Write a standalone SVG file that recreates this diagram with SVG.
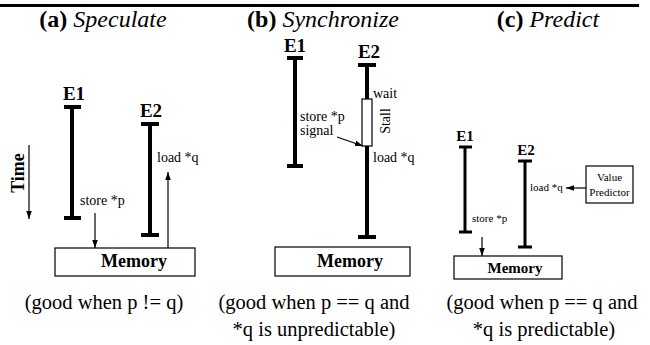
<svg xmlns="http://www.w3.org/2000/svg" width="650" height="345" viewBox="0 0 650 345" font-family="'Liberation Serif', 'DejaVu Serif', serif">
<style>
text, tspan{font-family:"Liberation Serif","DejaVu Serif",serif;fill:#000}
.title{font-size:24px;text-anchor:middle}
.b{font-weight:bold}
.i{font-style:italic}
.lab{font-size:19px;font-weight:bold;text-anchor:middle}
.labs{font-size:15px;font-weight:bold;text-anchor:middle}
.t{font-size:14px}
.ts{font-size:11px}
.mem{font-size:18px;font-weight:bold;text-anchor:middle}
.mems{font-size:15px;font-weight:bold;text-anchor:middle}
.cap{font-size:20.5px;text-anchor:middle}
.bar{stroke:#000;stroke-width:4;fill:none}
.bars{stroke:#000;stroke-width:3;fill:none}
.box{fill:#fff;stroke:#000;stroke-width:1.2}
.arr{stroke:#000;stroke-width:1.2;fill:none;marker-end:url(#ah)}
</style>
<defs>
<marker id="ah" viewBox="0 0 10 10" refX="10" refY="5" markerWidth="8" markerHeight="8" markerUnits="userSpaceOnUse" orient="auto">
<path d="M0,1.5 L10,5 L0,8.5 Z" fill="#000"/>
</marker>
</defs>
<line x1="0" y1="5.5" x2="639" y2="5.5" stroke="#000" stroke-width="3"/>

<g id="panel-a">
<text class="title" x="103" y="27"><tspan class="b">(a)</tspan> <tspan class="i">Speculate</tspan></text>
<g id="a-time"><text class="b" font-size="18" text-anchor="middle" transform="translate(24,173) rotate(-90)">Time</text></g>
<g id="a-e1">
<text class="lab" x="74" y="100">E1</text>
<path class="bar" d="M72,107 V218 M64,107 H81 M64,218 H81"/>
<text class="t" x="80" y="205">store *p</text>
</g>
<g id="a-e2">
<text class="lab" x="151" y="117">E2</text>
<path class="bar" d="M150,124 V235 M141,124 H159 M141,235 H159"/>
<text class="t" x="157" y="162">load *q</text>
</g>
<g id="a-memory">
<rect class="box" x="55" y="248" width="140" height="28"/>
<text class="mem" x="134" y="267">Memory</text>
</g>
<text class="cap" x="104" y="309">(good when p != q)</text>
</g>

<g id="panel-b">
<text class="title" x="323" y="27"><tspan class="b">(b)</tspan> <tspan class="i">Synchronize</tspan></text>
<g id="b-e1">
<text class="lab" x="295" y="52">E1</text>
<path class="bar" d="M295,58 V166 M287,58 H303 M287,166 H303"/>
<text class="t" x="300" y="121">store *p</text>
<text class="t" x="300" y="135">signal</text>
</g>
<g id="b-e2">
<text class="lab" x="369" y="58">E2</text>
<path class="bar" d="M367,65 V237 M358,65 H376 M358,237 H376"/>
<text class="t" x="373" y="98">wait</text>
<text class="t" x="373" y="162">load *q</text>
</g>
<g id="b-stall">
<rect class="box" x="362" y="99" width="10" height="47"/>
<text class="t" text-anchor="middle" transform="translate(390,121) rotate(-90)">Stall</text>
</g>
<g id="b-memory">
<rect class="box" x="275" y="247" width="135" height="29"/>
<text class="mem" x="350" y="267">Memory</text>
</g>
<text class="cap" x="314" y="309">(good when p == q and</text>
<text class="cap" x="314" y="336">*q is unpredictable)</text>
</g>

<g id="panel-c">
<text class="title" x="548" y="27"><tspan class="b">(c)</tspan> <tspan class="i">Predict</tspan></text>
<g id="c-e1">
<text class="labs" x="465" y="141">E1</text>
<path class="bars" d="M465,147 V232 M459,147 H472 M459,232 H472"/>
<text class="ts" x="472" y="222">store *p</text>
</g>
<g id="c-e2">
<text class="labs" x="526" y="155">E2</text>
<path class="bars" d="M525,161 V247 M518,161 H532 M518,247 H532"/>
<text class="ts" x="530" y="191">load *q</text>
</g>
<g id="c-predictor">
<rect class="box" x="586" y="166" width="47" height="37"/>
<text class="ts" x="609.5" y="181" text-anchor="middle">Value</text>
<text class="ts" x="609.5" y="196" text-anchor="middle">Predictor</text>
</g>
<g id="c-memory">
<rect class="box" x="454" y="256" width="108" height="23"/>
<text class="mems" x="515" y="273">Memory</text>
</g>
<text class="cap" x="542" y="309">(good when p == q and</text>
<text class="cap" x="544" y="336">*q is predictable)</text>
</g>

<g id="connectors">
<line class="arr" x1="29" y1="145" x2="29" y2="219"/>
<line class="arr" x1="95" y1="213" x2="95" y2="248"/>
<line class="arr" x1="168" y1="248" x2="168" y2="172"/>
<line class="arr" x1="337" y1="137" x2="363" y2="146"/>
<line class="arr" x1="586" y1="188" x2="566" y2="188"/>
<line class="arr" x1="482" y1="237" x2="482" y2="256"/>
</g>
</svg>
